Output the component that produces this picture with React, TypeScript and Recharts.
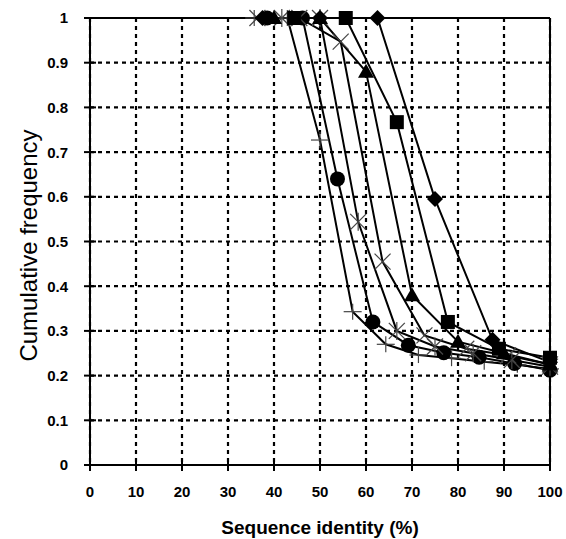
import React from 'react';
import { LineChart, Line, XAxis, YAxis, CartesianGrid, ReferenceLine, Label } from 'recharts';

// axis ticks
const xTicks = [0, 10, 20, 30, 40, 50, 60, 70, 80, 90, 100];
const yTicks = [0, 0.1, 0.2, 0.3, 0.4, 0.5, 0.6, 0.7, 0.8, 0.9, 1];
const yTickLabels = ['0', '0.1', '0.2', '0.3', '0.4', '0.5', '0.6', '0.7', '0.8', '0.9', '1'];

// series (sequence identity %, cumulative frequency)
const diamondX = [37.5, 50, 62.5, 75, 87.5, 100];
const diamondY = [1, 1, 1, 0.595, 0.28, 0.23];

const squareX = [44.4, 55.6, 66.7, 77.8, 88.9, 100];
const squareY = [1, 1, 0.767, 0.32, 0.26, 0.24];

const triangleX = [40, 50, 60, 70, 80, 90, 100];
const triangleY = [1, 1, 0.88, 0.38, 0.276, 0.25, 0.225];

const crossX = [36.4, 45.5, 54.5, 63.6, 72.7, 81.8, 90.9, 100];
const crossY = [1, 1, 0.947, 0.455, 0.29, 0.26, 0.245, 0.225];

const starX = [41.7, 50, 58.3, 66.7, 75, 83.3, 91.7, 100];
const starY = [1, 1, 0.544, 0.3, 0.265, 0.25, 0.235, 0.22];

const circleX = [38.5, 46.2, 53.8, 61.5, 69.2, 76.9, 84.6, 92.3, 100];
const circleY = [1, 1, 0.64, 0.32, 0.268, 0.251, 0.241, 0.227, 0.212];

const plusX = [35.7, 42.9, 50, 57.1, 64.3, 71.4, 78.6, 85.7, 92.9, 100];
const plusY = [1, 1, 0.727, 0.343, 0.27, 0.246, 0.239, 0.231, 0.224, 0.215];

const series = [
  { name: 'plus', xs: plusX, ys: plusY },
  { name: 'circle', xs: circleX, ys: circleY },
  { name: 'star', xs: starX, ys: starY },
  { name: 'cross', xs: crossX, ys: crossY },
  { name: 'triangle', xs: triangleX, ys: triangleY },
  { name: 'square', xs: squareX, ys: squareY },
  { name: 'diamond', xs: diamondX, ys: diamondY },
];

const TICK_MARGIN = 16;
const font = "'Liberation Sans', Arial, sans-serif";

const Marker = ({ cx, cy, shape }: any) => {
  if (cx == null || cy == null) return null;
  switch (shape) {
    case 'diamond':
      return <polygon points={`${cx},${cy - 8} ${cx + 8},${cy} ${cx},${cy + 8} ${cx - 8},${cy}`} fill="#000" />;
    case 'square':
      return <rect x={cx - 7} y={cy - 7} width={14} height={14} fill="#000" />;
    case 'triangle':
      return <polygon points={`${cx},${cy - 8} ${cx + 8},${cy + 6} ${cx - 8},${cy + 6}`} fill="#000" />;
    case 'circle':
      return <circle cx={cx} cy={cy} r={7.5} fill="#000" />;
    case 'cross':
      return (
        <g stroke="#444" strokeWidth={1.2}>
          <line x1={cx - 8} y1={cy - 8} x2={cx + 8} y2={cy + 8} />
          <line x1={cx - 8} y1={cy + 8} x2={cx + 8} y2={cy - 8} />
        </g>
      );
    case 'star':
      return (
        <g stroke="#444" strokeWidth={1.2}>
          <line x1={cx - 8} y1={cy - 8} x2={cx + 8} y2={cy + 8} />
          <line x1={cx - 8} y1={cy + 8} x2={cx + 8} y2={cy - 8} />
          <line x1={cx} y1={cy - 9} x2={cx} y2={cy + 9} />
        </g>
      );
    default:
      return (
        <g stroke="#444" strokeWidth={1.2}>
          <line x1={cx - 9} y1={cy} x2={cx + 9} y2={cy} />
          <line x1={cx} y1={cy - 8} x2={cx} y2={cy + 8} />
        </g>
      );
  }
};

const YTick = ({ x, y, payload }: any) => {
  const ax = x + TICK_MARGIN;
  const i = yTicks.indexOf(payload.value);
  return (
    <g>
      <line x1={ax - 6} x2={ax + 6} y1={y} y2={y} stroke="#000" strokeWidth={2} />
      <text x={ax - 22} y={y} dy="0.36em" textAnchor="end" fontFamily={font} fontWeight="bold" fontSize={15} fill="#000">
        {i >= 0 ? yTickLabels[i] : payload.value}
      </text>
    </g>
  );
};

const XTick = ({ x, y, payload }: any) => {
  const ay = y - TICK_MARGIN;
  return (
    <g>
      <line x1={x} x2={x} y1={ay - 6} y2={ay + 6} stroke="#000" strokeWidth={2} />
      <text x={x} y={ay + 32} textAnchor="middle" fontFamily={font} fontWeight="bold" fontSize={15} fill="#000">
        {payload.value}
      </text>
    </g>
  );
};

const YTitle = ({ viewBox }: any) => {
  const cx = viewBox.x + 28;
  const cy = viewBox.y + viewBox.height / 2 + 4;
  return (
    <text x={cx} y={cy} transform={`rotate(-90 ${cx} ${cy})`} textAnchor="middle" dominantBaseline="central"
      fontFamily={font} fontSize={24} fill="#000">
      Cumulative frequency
    </text>
  );
};

const XTitle = ({ viewBox }: any) => {
  const cx = viewBox.x + viewBox.width / 2;
  return (
    <text x={cx} y={viewBox.y + 69} textAnchor="middle" fontFamily={font} fontWeight="bold" fontSize={19} fill="#000">
      Sequence identity (%)
    </text>
  );
};

export default function App() {
  return (
    <div style={{ position: 'absolute', left: 0, top: 0, width: 566, height: 539, background: '#fff' }}>
      <LineChart width={566} height={539} margin={{ top: 18, right: 16, left: 0, bottom: 0 }}>
        <CartesianGrid stroke="#000" strokeWidth={2.2} strokeDasharray="4 4" />
        <XAxis
          type="number"
          dataKey="x"
          domain={[0, 100]}
          ticks={xTicks}
          height={74}
          tickSize={0}
          tickMargin={TICK_MARGIN}
          tick={<XTick />}
          axisLine={{ stroke: '#000', strokeWidth: 2 }}
          label={<Label content={<XTitle />} />}
        />
        <YAxis
          type="number"
          dataKey="y"
          domain={[0, 1]}
          ticks={yTicks}
          width={90}
          tickSize={0}
          tickMargin={TICK_MARGIN}
          tick={<YTick />}
          axisLine={{ stroke: '#000', strokeWidth: 2 }}
          label={<Label content={<YTitle />} />}
        />
        <ReferenceLine y={1} stroke="#000" strokeWidth={2} />
        <ReferenceLine x={100} stroke="#000" strokeWidth={2} />
        {series.map((s) => (
          <Line
            key={s.name}
            data={s.xs.map((x, i) => ({ x, y: s.ys[i] }))}
            dataKey="y"
            type="linear"
            stroke="#000"
            strokeWidth={2}
            isAnimationActive={false}
            dot={(p: any) => <Marker key={`${s.name}-${p.index}`} cx={p.cx} cy={p.cy} shape={s.name} />}
            activeDot={false}
          />
        ))}
      </LineChart>
    </div>
  );
}
